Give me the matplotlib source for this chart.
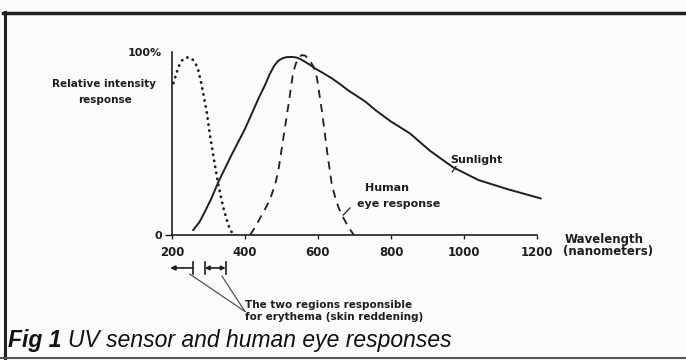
import matplotlib.pyplot as plt
from matplotlib.lines import Line2D

# wavelength (nm) / relative response (0..1)
sun_nm = [258, 275, 290, 308, 327, 363, 400, 437, 455, 468, 480, 491, 503,
          514, 528, 541, 553, 564, 578, 592, 614, 638, 660, 683, 706, 729,
          759, 800, 852, 907, 970, 1040, 1120, 1210]
sun_val = [0.027, 0.07, 0.127, 0.2, 0.29, 0.437, 0.58, 0.746, 0.82, 0.88,
           0.925, 0.952, 0.966, 0.972, 0.973, 0.97, 0.96, 0.947, 0.93, 0.91,
           0.885, 0.856, 0.825, 0.79, 0.76, 0.73, 0.68, 0.62, 0.555, 0.46,
           0.37, 0.30, 0.25, 0.20]

ery_nm = [204, 210, 218, 228, 238, 247, 256, 265, 272, 279, 285, 295, 304,
          316, 327, 341, 354, 362, 370]
ery_val = [0.83, 0.87, 0.92, 0.955, 0.97, 0.97, 0.96, 0.935, 0.90, 0.84,
           0.78, 0.674, 0.546, 0.40, 0.273, 0.146, 0.055, 0.02, 0.0]

eye_nm = [414, 430, 446, 460, 473, 483, 491, 505, 519, 532, 540, 546, 555,
          565, 573, 579, 590, 597, 611, 625, 638, 648, 657, 668, 680, 698]
eye_val = [0.0, 0.05, 0.11, 0.16, 0.22, 0.28, 0.347, 0.53, 0.71, 0.89, 0.94,
           0.965, 0.983, 0.98, 0.965, 0.95, 0.91, 0.86, 0.674, 0.456, 0.273,
           0.2, 0.146, 0.1, 0.055, 0.0]

x_ticks = [200, 400, 600, 800, 1000, 1200]
y_ticks = [0, 1]
y_ticklabels = ['0', '100%']

# erythema bands shown under the axis
band1 = (257, 195)
band2 = (290, 347)

W, H = 686, 360
ink = '#1e1e1e'
bold = dict(family='DejaVu Sans', weight='bold', color=ink)

fig = plt.figure(figsize=(W / 100, H / 100), dpi=100)
fig.patch.set_facecolor('#fcfcfc')

def px(x, y):
    return x / W, 1 - y / H

ax = fig.add_axes([172 / W, 125 / H, 365 / W, 183 / H])
ax.set_facecolor('none')
ax.set_xlim(200, 1200)
ax.set_ylim(0, 1)

ax.plot(sun_nm, sun_val, color=ink, lw=1.4, clip_on=False)
ax.plot(ery_nm, ery_val, color=ink, lw=2.0, linestyle=(0, (0.1, 2.1)),
        dash_capstyle='round', clip_on=False)
ax.plot(eye_nm, eye_val, color=ink, lw=1.3, linestyle=(0, (4.5, 3.5)),
        clip_on=False)

for s in ['top', 'right']:
    ax.spines[s].set_visible(False)
for s in ['left', 'bottom']:
    ax.spines[s].set_color(ink)
    ax.spines[s].set_linewidth(1.2)

ax.set_xticks(x_ticks)
ax.set_xticklabels([str(v) for v in x_ticks], fontsize=8.5, **bold)
ax.set_yticks(y_ticks)
ax.set_yticklabels(y_ticklabels, fontsize=8, **bold)
ax.tick_params(axis='x', direction='out', length=3, width=1, color=ink, pad=5)
ax.tick_params(axis='y', direction='out', length=5, width=1, color=ink, pad=2)
ax.yaxis.get_ticklines()[2].set_visible(False)

# curve labels
ax.text(962, 0.41, 'Sunlight', fontsize=8, va='center', **bold)
ax.plot([978, 968], [0.375, 0.345], color=ink, lw=0.9, clip_on=False)
ax.text(729, 0.255, 'Human', fontsize=8, va='center', **bold)
ax.text(708, 0.172, 'eye response', fontsize=8, va='center', **bold)
ax.plot([688, 669], [0.148, 0.109], color=ink, lw=0.9, clip_on=False)

# erythema region markers
yb = -0.18
ax.annotate('', xy=(band1[1], yb), xytext=(band1[0], yb), annotation_clip=False,
            arrowprops=dict(arrowstyle='-|>', color=ink, lw=1.2,
                            mutation_scale=7, shrinkA=0, shrinkB=0))
ax.annotate('', xy=(band2[0], yb), xytext=(band2[1], yb), annotation_clip=False,
            arrowprops=dict(arrowstyle='<|-|>', color=ink, lw=1.2,
                            mutation_scale=6, shrinkA=0, shrinkB=0))
for xb in [band1[0], band2[0], band2[1]]:
    ax.plot([xb, xb], [yb - 0.035, yb + 0.035], color=ink, lw=1.2, clip_on=False)
ax.plot([249, 400], [-0.214, -0.418], color='#555555', lw=0.9, clip_on=False)
ax.plot([337, 400], [-0.225, -0.418], color='#555555', lw=0.9, clip_on=False)

# side texts
fig.text(*px(104, 84), 'Relative intensity', fontsize=7.5, ha='center', va='center', **bold)
fig.text(*px(105, 100), 'response', fontsize=7.5, ha='center', va='center', **bold)
fig.text(*px(565, 239), 'Wavelength', fontsize=8.5, ha='left', va='center', **bold)
fig.text(*px(563, 252), '(nanometers)', fontsize=8.5, ha='left', va='center', **bold)
fig.text(*px(245, 305), 'The two regions responsible', fontsize=7.5, ha='left', va='center', **bold)
fig.text(*px(245, 317), 'for erythema (skin reddening)', fontsize=7.5, ha='left', va='center', **bold)

# caption
fig.text(*px(8, 341), 'Fig 1', fontsize=16.5, family='Liberation Sans',
         weight='bold', style='italic', color='#111111', va='center')
fig.text(*px(68, 341), 'UV sensor and human eye responses', fontsize=16.5,
         family='Liberation Sans', style='italic', color='#111111', va='center')

# page frame
fig.add_artist(Line2D([3 / W, 1], [1 - 13 / H] * 2, transform=fig.transFigure,
                      color='#222222', lw=2.5))
fig.add_artist(Line2D([5 / W] * 2, [1 - 12 / H, 0], transform=fig.transFigure,
                      color='#222222', lw=2.2))
fig.add_artist(Line2D([0, 1], [1 - 358 / H] * 2, transform=fig.transFigure,
                      color='#555555', lw=1.5))

fig.savefig('out.png', dpi=100, facecolor=fig.get_facecolor())
